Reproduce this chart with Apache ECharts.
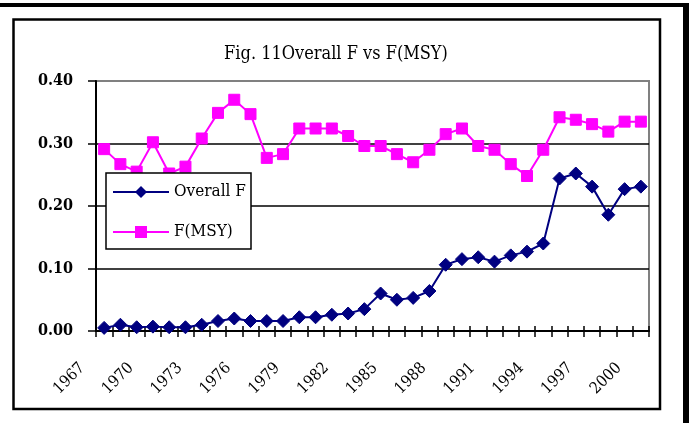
<!DOCTYPE html>
<html>
<head>
<meta charset="utf-8">
<script src="https://cdn.jsdelivr.net/npm/echarts@6/dist/echarts.min.js"></script>
<style>
  html, body { margin: 0; padding: 0; background: #fff; }
  #chart { width: 689px; height: 423px; }
</style>
</head>
<body>
<div id="chart"></div>
<script>
// Fishing mortality by year: overall F against the MSY reference level
const years = ['1967','1968','1969','1970','1971','1972','1973','1974','1975','1976',
  '1977','1978','1979','1980','1981','1982','1983','1984','1985','1986',
  '1987','1988','1989','1990','1991','1992','1993','1994','1995','1996',
  '1997','1998','1999','2000'];

const overallF = [0.005, 0.010, 0.006, 0.007, 0.006, 0.006, 0.010, 0.016, 0.020, 0.016,
  0.016, 0.016, 0.022, 0.022, 0.026, 0.028, 0.035, 0.060, 0.050, 0.053,
  0.064, 0.106, 0.115, 0.118, 0.111, 0.121, 0.127, 0.140, 0.244, 0.252,
  0.231, 0.186, 0.227, 0.231];

const fMsy = [0.291, 0.267, 0.255, 0.302, 0.252, 0.263, 0.308, 0.349, 0.370, 0.347,
  0.277, 0.283, 0.324, 0.324, 0.324, 0.312, 0.296, 0.296, 0.283, 0.270,
  0.290, 0.315, 0.324, 0.296, 0.290, 0.267, 0.248, 0.290, 0.342, 0.338,
  0.331, 0.319, 0.335, 0.335];

const yTicks = [0, 0.1, 0.2, 0.3, 0.4];

const FONT = '"DejaVu Serif Condensed", "Liberation Serif", serif';

const chart = echarts.init(document.getElementById('chart'), null, { renderer: 'canvas' });

chart.setOption({
  backgroundColor: '#fff',
  animation: false,
  title: {
    text: 'Fig. 11Overall F vs F(MSY)',
    left: 336,
    top: 45,
    textAlign: 'center',
    padding: 0,
    textStyle: { fontFamily: FONT, fontSize: 18, fontWeight: 'normal', color: '#000' }
  },
  graphic: [
    { type: 'rect', silent: true, z: 100, shape: { x: 0, y: 3, width: 689, height: 4 }, style: { fill: '#000' } },
    { type: 'rect', silent: true, z: 100, shape: { x: 683, y: 3, width: 6, height: 420 }, style: { fill: '#000' } },
    { type: 'rect', silent: true, z: 100, shape: { x: 13.5, y: 19.5, width: 646.5, height: 389.5 },
      style: { fill: 'none', stroke: '#000', lineWidth: 2.5 } }
  ],
  legend: {
    orient: 'vertical',
    left: 106,
    top: 173,
    padding: [9, 5, 7, 6],
    itemGap: 20,
    itemWidth: 56,
    itemHeight: 15,
    backgroundColor: '#fff',
    borderColor: '#000',
    borderWidth: 1.5,
    z: 10,
    textStyle: { fontFamily: FONT, fontSize: 17, color: '#000', lineHeight: 20, width: 72 },
    data: ['Overall F', 'F(MSY)']
  },
  grid: {
    left: 96, right: 40, top: 81, bottom: 92,
    show: true,
    backgroundColor: '#fff',
    borderColor: '#808080',
    borderWidth: 2
  },
  xAxis: [
    {
      type: 'category',
      data: years,
      boundaryGap: true,
      axisLine: { show: true, onZero: false, lineStyle: { color: '#000', width: 2 } },
      axisTick: { show: true, interval: 0, inside: false, length: 6, lineStyle: { color: '#000', width: 1.5 } },
      axisLabel: {
        interval: 2,
        rotate: 45,
        margin: 24,
        align: 'right',
        verticalAlign: 'bottom',
        padding: [0, 23, 0, 0],
        fontFamily: FONT,
        fontSize: 16,
        color: '#000'
      },
      splitLine: { show: false }
    },
    {
      type: 'category',
      data: years,
      position: 'bottom',
      boundaryGap: true,
      axisLine: { show: false },
      axisTick: { show: true, interval: 0, inside: true, length: 5, lineStyle: { color: '#000', width: 1.5 } },
      axisLabel: { show: false },
      splitLine: { show: false }
    }
  ],
  yAxis: {
    type: 'value',
    min: yTicks[0],
    max: yTicks[yTicks.length - 1],
    interval: 0.1,
    axisLine: { show: true, lineStyle: { color: '#000', width: 2 } },
    axisTick: { show: true, inside: false, length: 8, lineStyle: { color: '#000', width: 1.5 } },
    axisLabel: {
      margin: 23,
      fontFamily: FONT,
      fontSize: 16,
      fontWeight: 'bold',
      color: '#000',
      formatter: v => v.toFixed(2)
    },
    splitLine: {
      show: true,
      lineStyle: { color: ['#000', '#000', '#000', '#000', '#808080'], width: 1.5 }
    }
  },
  series: [
    {
      name: 'Overall F',
      type: 'line',
      data: overallF,
      symbol: 'diamond',
      symbolSize: 13,
      showAllSymbol: true,
      lineStyle: { color: '#000080', width: 2 },
      itemStyle: { color: '#000080', borderColor: '#000080' },
      z: 3
    },
    {
      name: 'F(MSY)',
      type: 'line',
      data: fMsy,
      symbol: 'rect',
      symbolSize: 11,
      showAllSymbol: true,
      lineStyle: { color: '#FF00FF', width: 2 },
      itemStyle: { color: '#FF00FF', borderColor: '#FF00FF' },
      z: 2
    }
  ]
});
</script>
</body>
</html>
